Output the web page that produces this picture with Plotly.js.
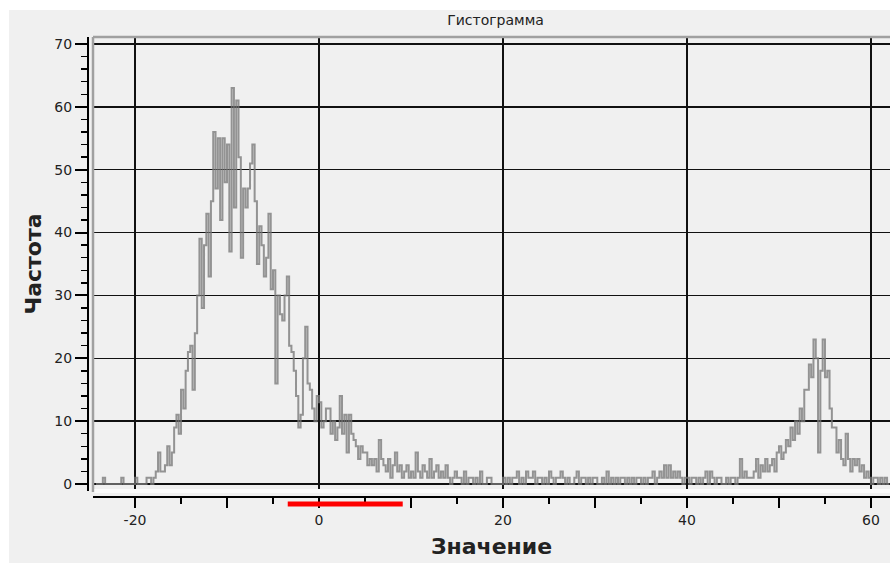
<!DOCTYPE html>
<html><head><meta charset="utf-8">
<script src="https://cdn.plot.ly/plotly-3.0.1.min.js"></script>
<style>
html,body{margin:0;padding:0;background:#ffffff;}
#chart{position:absolute;left:9px;top:10px;width:881px;height:553px;}
</style>
</head><body><div id="chart"></div>
<script>
// ---- data ----
const binStart = -24.25;
const binWidth = 0.25;
// bins from -24.25 up to -0.25
const countsLeft = [
  0,
  0,0,1,0,  0,0,0,0,  0,0,1,0,  0,0,0,0,  1,0,0,0,
  0,1,1,0,  1,2,5,2,  2,3,6,3,  5,9,11,8,  15,12,18,21,
  22,15,24,30,  39,28,38,43,  33,45,56,47,  55,42,55,48,  54,37,63,44,
  61,52,36,47,  44,47,51,54,  45,35,41,38,  33,36,43,31,  34,16,30,27,
  26,30,33,22,  21,18,14,9,  11,20,25,16,  15,12,10,14
];
// bins from 0 up to 44.75
const countsMid = [
  13,9,10,12,  12,8,10,7,  9,14,8,11,  5,11,8,7,  6,4,6,5,
  5,3,4,3,  4,2,7,4,  3,2,4,1,  3,5,2,3,  1,2,3,1,
  2,1,5,2,  1,3,2,1,  4,1,2,3,  1,2,1,3,  1,0,1,2,
  1,1,0,2,  0,1,1,0,  1,0,2,0,  0,1,1,0,  0,0,0,0,
  1,0,1,0,  1,1,2,0,  1,0,2,1,  1,2,0,1,  1,0,1,0,
  2,1,0,1,  1,2,1,0,  1,0,0,1,  2,0,1,1,  0,1,0,1,
  1,0,0,1,  0,2,0,1,  0,1,0,1,  1,0,1,0,  1,0,1,1,
  0,1,0,1,  1,2,0,1,  2,1,3,1,  3,1,2,1,  2,1,0,1,
  1,0,1,1,  0,1,0,1,  2,0,2,1,  0,1,1,0,  0,1,0,1
];
// bins from 45 up to 61.75
const countsRight = [
  1,0,1,4,  1,2,1,1,  1,2,4,1,  3,2,4,2,  3,4,2,5,
  6,4,5,7,  6,9,7,10,  8,12,10,15,  15,19,17,23,  20,5,18,23,
  17,18,12,9,  9,5,7,4,  3,8,4,2,  4,3,4,2,  3,1,2,1,
  0,1,1,0,  1,0,1,0
];

const xRange = [-24.57, 62.07];
const yRange = [-1.11, 71.11];
const xGridStep = 20;
const xTickVals = [-20, -10, 0, 10, 20, 30, 40, 50, 60];
const xTickText = ['-20', '', '0', '', '20', '', '40', '', '60'];
const xMinorStep = 5;
const yMajorStep = 10;
const yMinorStep = 2;
const markerSpan = [-3.4, 9.1];

const chartTitle = 'Гистограмма';
const xTitle = 'Значение';
const yTitle = 'Частота';

// ---- build step series ----
const counts = countsLeft.concat(countsMid, countsRight);
const xs = [], ys = [];
for (let i = 0; i < counts.length; i++) {
  xs.push(binStart + i * binWidth);
  ys.push(counts[i]);
}
xs.push(binStart + counts.length * binWidth);
ys.push(counts[counts.length - 1]);

// ---- geometry (pixels) ----
const W = 881, H = 553;
const mL = 79, mR = 0, mT = 27, mB = 66;
const pw = W - mL - mR, ph = H - mT - mB;
const xDom0 = 5 / pw;
const yDom0 = 6 / ph;

const FONT = 'DejaVu Sans';

const traces = [
  {
    type: 'scatter', mode: 'lines', x: xs, y: ys,
    line: {shape: 'hv', color: 'rgba(120,120,120,0.78)', width: 2},
    xaxis: 'x', yaxis: 'y', hoverinfo: 'x+y', showlegend: false
  },
  {
    type: 'scatter', mode: 'lines', x: [], y: [],
    xaxis: 'x2', yaxis: 'y', hoverinfo: 'skip', showlegend: false
  }
];

const layout = {
  width: W, height: H,
  paper_bgcolor: '#f0f0f0', plot_bgcolor: '#f0f0f0',
  margin: {l: mL, r: mR, t: mT, b: mB, pad: 0},
  showlegend: false,
  font: {family: FONT, color: '#222'},
  title: {
    text: chartTitle,
    font: {family: FONT, size: 14, color: '#222'},
    xref: 'container', x: (495.5 - 9) / W, xanchor: 'center',
    yref: 'container', y: 1 - 10 / H, yanchor: 'middle'
  },
  xaxis: {
    domain: [xDom0, 1], anchor: 'y', range: xRange,
    tickmode: 'linear', tick0: 0, dtick: xGridStep,
    showgrid: true, gridcolor: '#111', gridwidth: 1.5,
    ticks: '', showticklabels: false, zeroline: false, showline: false
  },
  xaxis2: {
    overlaying: 'x', anchor: 'free', position: 0, range: xRange,
    tickmode: 'array', tickvals: xTickVals, ticktext: xTickText,
    ticks: 'outside', ticklen: 10, tickwidth: 1.5, tickcolor: '#000',
    showline: true, linecolor: '#000', linewidth: 2,
    showgrid: false, zeroline: false,
    minor: {tickmode: 'linear', tick0: 0, dtick: xMinorStep, ticks: 'outside',
            ticklen: 6, tickwidth: 1.5, tickcolor: '#000', showgrid: false},
    tickfont: {family: FONT, size: 14, color: '#222'},
    title: {text: xTitle, font: {family: FONT, size: 22, color: '#222', weight: 700}, standoff: 11}
  },
  yaxis: {
    domain: [yDom0, 1], anchor: 'free', position: 0, range: yRange,
    tickmode: 'linear', tick0: 0, dtick: yMajorStep,
    ticks: 'outside', ticklen: 12, tickwidth: 2, tickcolor: '#000',
    showline: true, linecolor: '#000', linewidth: 2,
    showgrid: true, gridcolor: '#111', gridwidth: 1.5, zeroline: false,
    minor: {tickmode: 'linear', tick0: 0, dtick: yMinorStep, ticks: 'outside',
            ticklen: 6, tickwidth: 1.5, tickcolor: '#000', showgrid: false},
    tickfont: {family: FONT, size: 14, color: '#222'},
    title: {text: yTitle, font: {family: FONT, size: 22, color: '#222', weight: 700}, standoff: 6}
  },
  shapes: [
    {type: 'line', xref: 'paper', yref: 'paper', x0: xDom0, x1: 1, y0: 1, y1: 1,
     line: {color: '#a0a0a0', width: 2.5}, layer: 'above'},
    {type: 'line', xref: 'paper', yref: 'paper', x0: xDom0, x1: xDom0, y0: 5 / ph, y1: 1,
     line: {color: '#a0a0a0', width: 2.5}, layer: 'above'},
    {type: 'line', xref: 'paper', yref: 'paper', x0: xDom0 + 1.5 / pw, x1: 1, y0: 6 / ph, y1: 6 / ph,
     line: {color: '#fbfbfb', width: 4}, layer: 'above'},
    {type: 'line', xref: 'x', yref: 'paper', x0: markerSpan[0], x1: markerSpan[1],
     y0: -7 / ph, y1: -7 / ph, line: {color: '#ff0000', width: 5}, layer: 'above'}
  ]
};

Plotly.newPlot('chart', traces, layout, {displayModeBar: false, staticPlot: true});
</script>
</body></html>
